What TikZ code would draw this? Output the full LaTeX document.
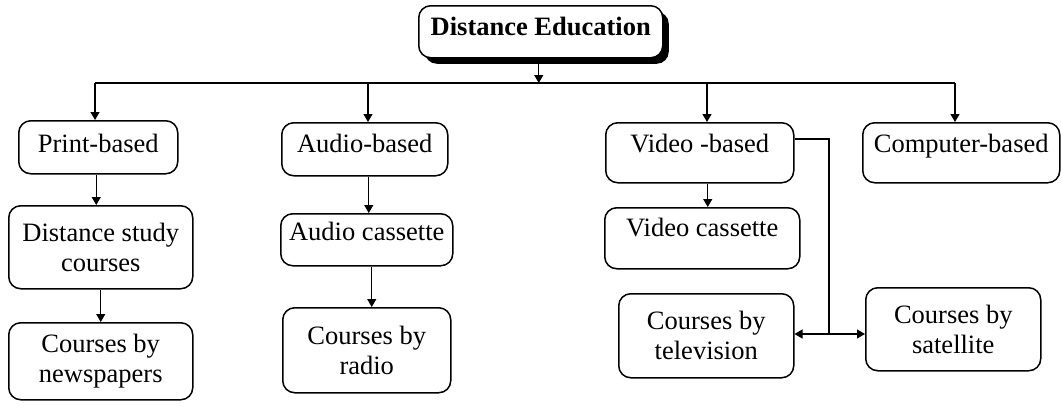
\documentclass[tikz,border=0pt]{standalone}
\usepackage{fontspec}
\setmainfont{Liberation Serif}
\usetikzlibrary{arrows.meta,shadows}
\begin{document}
\begin{tikzpicture}[x=1pt,y=-1pt,
  box/.style={draw, line width=1.5pt, rounded corners=12pt, fill=white,
    inner sep=0pt, align=center, anchor=north west,
    font=\fontsize{26.5}{30}\selectfont},
  headbox/.style={box, font=\fontsize{26.5}{30}\selectfont\bfseries,
    drop shadow={fill=black, opacity=1, shadow xshift=6pt, shadow yshift=-6pt}},
  line/.style={line width=1.2pt},
  arr/.style={line, -{Triangle[width=9pt,length=8pt]}}]
\useasboundingbox (0,0) rectangle (1061,407);

% root
\node[headbox, minimum width=244pt, text height=30pt, text depth=22pt] (de) at (418,5) {Distance Education};

% first level
\node[box, minimum width=159pt, text height=32pt, text depth=21pt] (pb) at (18,120) {Print-based};
\node[box, minimum width=166pt, text height=30pt, text depth=23pt] (ab) at (281,122) {Audio-based};
\node[box, minimum width=188pt, text height=30pt, text depth=30pt] (vb) at (605,122) {Video -based};
\node[box, minimum width=197pt, text height=30pt, text depth=30pt] (cb) at (862,122) {Computer-based};

% print branch
\node[box, minimum width=184pt, minimum height=83pt] (dsc) at (8,205) {Distance study\\courses};
\node[box, minimum width=184pt, minimum height=77pt] (np) at (8,322) {Courses by\\newspapers};

% audio branch
\node[box, minimum width=172pt, text height=27pt, text depth=25pt] (ac) at (280,213) {Audio cassette};
\node[box, minimum width=168pt, minimum height=85pt] (rd) at (282,307) {Courses by\\radio};

% video branch
\node[box, minimum width=195pt, text height=29pt, text depth=32pt] (vc) at (604,207) {Video cassette};
\node[box, minimum width=175pt, minimum height=84pt] (tv) at (618,293) {Courses by\\television};
\node[box, minimum width=175pt, minimum height=83pt] (sat) at (865,287) {Courses by\\satellite};

% bus below the root
\coordinate (bL) at (95,83);
\coordinate (bA) at (368,83);
\coordinate (bV) at (707,83);
\coordinate (bR) at (955,83);
\draw[line] (bL) -- (bR);
\draw[arr] ([xshift=-2pt]de.south) -- ([xshift=-2pt]de.south |- bL);
\draw[arr] (bL) -- (bL |- pb.north);
\draw[arr] (bA) -- (bA |- ab.north);
\draw[arr] (bV) -- (bV |- vb.north);
\draw[arr] (bR) -- (bR |- cb.north);

% chains
\draw[arr] ([xshift=-2pt]pb.south) -- ([xshift=-2pt]pb.south |- dsc.north);
\draw[arr] (dsc.south) -- (dsc.south |- np.north);
\draw[arr] ([xshift=4pt]ab.south) -- ([xshift=4pt]ab.south |- ac.north);
\draw[arr] ([xshift=5pt]ac.south) -- ([xshift=5pt]ac.south |- rd.north);
\draw[arr] ([xshift=8pt]vb.south) -- ([xshift=8pt]vb.south |- vc.north);

% side line from video-based to the two course boxes
\coordinate (vj) at (829,139);
\coordinate (vk) at (829,334);
\draw[line] (vj -| vb.east) -- (vj) -- (vk);
\draw[arr] (vk) -- (vk -| tv.east);
\draw[arr] (vk) -- (vk -| sat.west);
\end{tikzpicture}
\end{document}
